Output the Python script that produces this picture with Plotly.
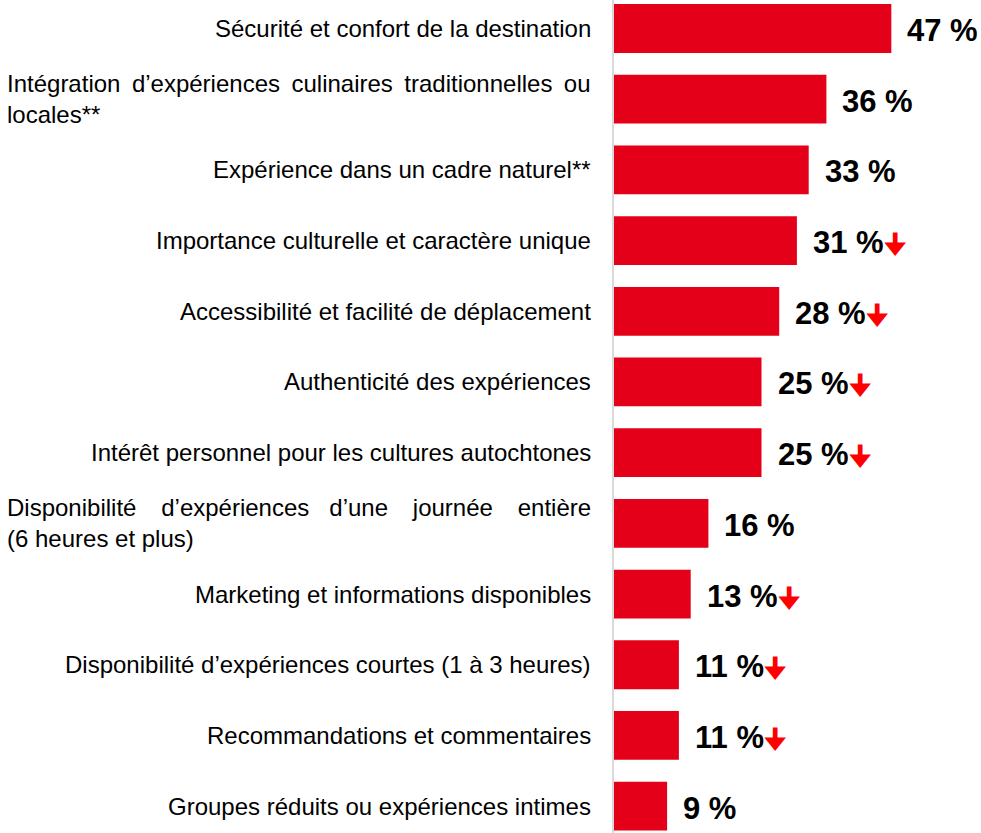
import plotly.graph_objects as go

categories = [
    "Sécurité et confort de la destination",
    "Intégration\u2009 d’expériences\u2009 culinaires\u2009 traditionnelles\u2009 ou<br>locales**",
    "Expérience dans un cadre naturel**",
    "Importance culturelle et caractère unique",
    "Accessibilité et facilité de déplacement",
    "Authenticité des expériences",
    "Intérêt personnel pour les cultures autochtones",
    "Disponibilité\u00a0\u00a0\u2009 d’expériences\u00a0\u00a0 d’une\u00a0\u00a0\u2009 journée\u00a0\u00a0\u2009 entière<br>(6 heures et plus)",
    "Marketing et informations disponibles",
    "Disponibilité d’expériences courtes (1 à 3 heures)",
    "Recommandations et commentaires",
    "Groupes réduits ou expériences intimes",
]
values = [47, 36, 33, 31, 28, 25, 25, 16, 13, 11, 11, 9]
decline = [False, False, False, True, True, True, True, False, True, True, True, False]

arrow_glyph = "🠋"

ids = list(range(len(categories)))

fig = go.Figure(go.Bar(
    y=ids, x=values, orientation="h",
    marker=dict(color="#E30018", line=dict(width=0)),
    width=0.69, hoverinfo="skip",
))

annotations = []
for i, (c, v, d) in enumerate(zip(categories, values, decline)):
    annotations.append(dict(
        x=0, y=i, xref="x", yref="y", text=c, showarrow=False,
        xanchor="right", yanchor="middle", xshift=-21, align="left",
        font=dict(family="Liberation Sans, Arial", size=24, color="#000000"),
    ))
    t = f"<b>{v} %</b>"
    if d:
        t += f"<span style='color:#FF0000;font-family:DejaVu Sans;font-size:27px'><b>{arrow_glyph}</b></span>"
    annotations.append(dict(
        x=v, y=i, xref="x", yref="y", text=t, showarrow=False,
        xanchor="left", yanchor="middle", xshift=14, yshift=-2,
        font=dict(family="Liberation Sans, Arial", size=31, color="#000000"),
    ))

fig.update_layout(
    width=981, height=833,
    margin=dict(l=614, r=0, t=0, b=0),
    plot_bgcolor="white", paper_bgcolor="white",
    showlegend=False,
    xaxis=dict(range=[0, 62.2], visible=False, fixedrange=True),
    yaxis=dict(range=[11.38, -0.403], showticklabels=False, ticks="",
               showgrid=False, zeroline=False, showline=True,
               linecolor="#D9D9D9", linewidth=2, fixedrange=True),
    annotations=annotations,
)

fig.write_html("out.html", config={"displayModeBar": False},
               post_script="document.body.style.margin='0';")
